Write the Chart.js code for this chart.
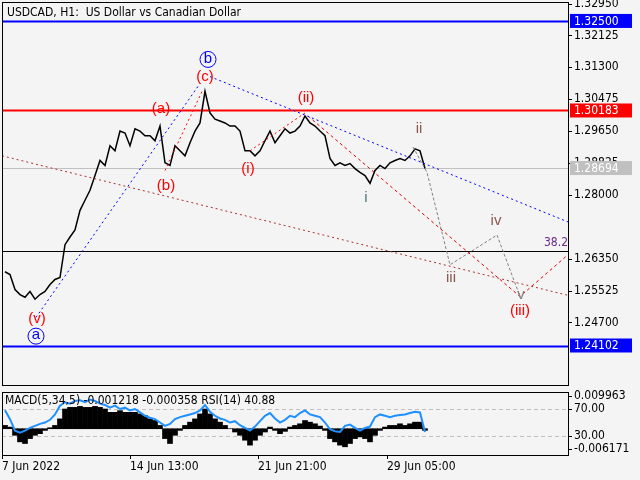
<!DOCTYPE html>
<html><head><meta charset="utf-8">
<script src="https://cdn.jsdelivr.net/npm/chart.js@4"></script>
<style>
body{margin:0;background:#f4f4f4;width:640px;height:480px;overflow:hidden;font-family:"Liberation Sans",sans-serif}
#a{position:absolute;left:0;top:0;width:640px;height:388px}
#b{position:absolute;left:0;top:388px;width:640px;height:92px}
</style></head><body>
<div id="a"><canvas id="c1"></canvas></div>
<div id="b"><canvas id="c2"></canvas></div>
<script>
const X0 = 3, STEP = 5;
const prices = [1.2601,1.2594,1.2555,1.2542,1.2535,1.2550,1.2530,1.2542,1.2550,1.2568,1.2581,1.2586,1.2671,1.2691,1.2709,1.2760,1.2786,1.2812,1.2850,1.2889,1.2876,1.2927,1.2914,1.2965,1.2960,1.2927,1.2971,1.2965,1.2953,1.2953,1.2940,1.2978,1.2883,1.2876,1.2927,1.2914,1.2901,1.2935,1.2965,1.2986,1.3068,1.3012,1.2996,1.2991,1.2986,1.2978,1.2978,1.2965,1.2914,1.2914,1.2901,1.2914,1.2940,1.2965,1.2935,1.2953,1.2971,1.2960,1.2965,1.2978,1.3004,1.2986,1.2978,1.2965,1.2953,1.2894,1.2876,1.2883,1.2876,1.2881,1.2868,1.2858,1.2850,1.2830,1.2863,1.2876,1.2868,1.2883,1.2889,1.2894,1.2889,1.2901,1.2919,1.2914,1.2868];
const macd = [1,0.5,-2,-4,-4.5,-3,-2,-1.5,-0.5,0.3,1,3,6,6.5,6.5,6.8,6.5,6.5,6.8,6.5,6,5,5,5.5,5,5,5,4.5,4,3,2.5,1,-3,-4.5,-2,-0.5,1,2,3,4.5,6,4.5,3,2,1,0,-1,-2,-3.5,-5,-3.5,-2,-1,0.5,-0.5,-1.5,-0.8,0.5,1,1.5,2.5,2,1.5,0.8,-0.5,-3,-4,-5,-5.5,-4.5,-3,-2.5,-3,-4,-2,-0.5,0.5,1,1,1.5,1,1.5,2,2,-0.5];
const rsi = [68,55,38,35,38,42,45,48,50,54,62,75,80,78,82,83,80,84,82,78,76,72,75,70,72,68,70,65,60,57,55,50,45,48,55,58,60,62,64,68,76,66,60,56,54,50,52,46,42,38,44,52,60,64,56,50,54,60,58,64,68,62,60,58,50,40,37,36,45,47,42,38,42,44,58,62,60,58,60,61,62,64,66,65,36];
const yTicks = [1.32950,1.32125,1.31300,1.30475,1.29650,1.28825,1.28000,1.26350,1.25525,1.24700];
const hLevels = [[1.32500,'#0000ff',2,'#0000ff','#fff'],[1.30183,'#ff0000',2,'#ff0000','#fff'],[1.28694,'#c0c0c0',1,'#c0c0c0','#fff'],[1.2655,'#000',1,null],[1.24102,'#0000ff',2,'#0000ff','#fff']];
const blueWave1 = [[34,1.2483],[198,1.3088]];
const blueWave2 = [[208,1.3106],[566,1.2730]];
const redWaveC = [[163,1.2863],[201,1.3073]];
const redWaveII = [[248,1.2914],[303,1.3012]];
const redWaveIII = [[306,1.3004],[518,1.2537],[566,1.2645]];
const brownTrend = [[0,1.2901],[566,1.2540]];
const grayPath = [[411,1.2924],[425,1.2858],[448,1.2619],[495,1.2696],[518,1.2537]];
const waveLabels = [['(c)',203,1.3106,'#ff0000',0],['b',206,1.3153,'#0000ff',1],['(a)',159,1.3022,'#ff0000',0],['(b)',164,1.2822,'#ff0000',0],['(i)',246,1.2868,'#ff0000',0],['(ii)',304,1.3050,'#ff0000',0],['i',364,1.2791,'#4a7a78',0],['ii',417,1.2970,'#8b5a4a',0],['iii',449,1.2586,'#8b5a4a',0],['iv',494,1.2732,'#8b5a4a',0],['v',519,1.2540,'#808080',0],['(iii)',518,1.2499,'#ff0000',0],['(v)',35,1.2478,'#ff0000',0],['a',34,1.2437,'#0000ff',1],['38.2',554,1.2676,'#6a2a8a',0]];
const dateLabels = [[0,'7 Jun 2022'],[128,'14 Jun 13:00'],[256,'21 Jun 21:00'],[385,'29 Jun 05:00']];

const pts = a => a.map(p=>({x:p[0],y:p[1]}));
const priceData = prices.map((v,i)=>({x:X0+i*STEP,y:v}));
const FONT = '12px "DejaVu Sans Condensed", "Liberation Sans"';
function ds(d,color,dash,w){return {data:pts(d),borderColor:color,borderWidth:w||1,borderDash:dash,pointRadius:0,tension:0,fill:false};}

const mainPlugin = {
  id:'mainp',
  beforeDatasetsDraw(ch){
    const {ctx,chartArea:a,scales:{x,y}}=ch;
    ctx.save();
    hLevels.forEach(h=>{const py=Math.round(y.getPixelForValue(h[0]))+0.5;ctx.strokeStyle=h[1];ctx.lineWidth=h[2];ctx.beginPath();ctx.moveTo(a.left,py);ctx.lineTo(a.right,py);ctx.stroke();});
    ctx.restore();
  },
  afterDraw(ch){
    const {ctx,chartArea:a,scales:{x,y}}=ch;
    ctx.save();
    ctx.strokeStyle='#000';ctx.lineWidth=1;ctx.strokeRect(a.left+0.5,a.top+0.5,a.right-a.left,a.bottom-a.top);
    ctx.font=FONT;ctx.fillStyle='#000';ctx.textBaseline='middle';ctx.textAlign='left';
    yTicks.forEach(v=>{const py=y.getPixelForValue(v);ctx.beginPath();ctx.moveTo(a.right,Math.round(py)+0.5);ctx.lineTo(a.right+4,Math.round(py)+0.5);ctx.stroke();ctx.fillText(v.toFixed(5),a.right+6,py);});
    ctx.fillText('USDCAD, H1:  US Dollar vs Canadian Dollar',7,13);
    hLevels.forEach(h=>{if(!h[3])return;const py=y.getPixelForValue(h[0]);ctx.fillStyle=h[3];ctx.fillRect(a.right+2,py-7,62,14);ctx.fillStyle=h[4];ctx.fillText(h[0].toFixed(5),a.right+6,py+0.5);});
    ctx.font='15px "Liberation Sans"';ctx.textAlign='center';
    waveLabels.forEach(l=>{const px=x.getPixelForValue(l[1]),py=y.getPixelForValue(l[2]);ctx.fillStyle=l[3];
      if(l[0]==='38.2'){ctx.font=FONT;}
      ctx.fillText(l[0],px,py);
      if(l[4]){ctx.strokeStyle=l[3];ctx.beginPath();ctx.arc(px,py+1,8,0,Math.PI*2);ctx.stroke();}
    });
    ctx.restore();
  }
};
new Chart(document.getElementById('c1'),{
  type:'line',
  data:{datasets:[
    ds(brownTrend,'#b03030',[2,3]),
    ds(blueWave1,'#0000ff',[2,3]),ds(blueWave2,'#0000ff',[2,3]),
    ds(redWaveC,'#ff0000',[2,3]),ds(redWaveII,'#ff0000',[2,3]),ds(redWaveIII,'#e00000',[3,3]),
    ds(grayPath,'#808080',[3,2]),
    {data:priceData,borderColor:'#000',borderWidth:1.5,pointRadius:0,tension:0}
  ]},
  options:{responsive:true,maintainAspectRatio:false,animation:false,events:[],
    layout:{padding:{left:2,top:2,bottom:3,right:72}},
    plugins:{legend:{display:false},tooltip:{enabled:false}},
    scales:{
      x:{type:'linear',min:0,max:566,display:false},
      y:{min:1.2308,max:1.3299,display:false}
    }},
  plugins:[mainPlugin]
});

const indPlugin={
  id:'indp',
  beforeDatasetsDraw(ch){
    const {ctx,chartArea:a,scales}=ch;const r=scales.yr;ctx.save();ctx.strokeStyle='#c0c0c0';ctx.setLineDash([4,3]);
    [70,30].forEach(v=>{const py=Math.round(r.getPixelForValue(v))+0.5;ctx.beginPath();ctx.moveTo(a.left,py);ctx.lineTo(a.right,py);ctx.stroke();});
    ctx.restore();
  },
  afterDraw(ch){
    const {ctx,chartArea:a,scales}=ch;const x=scales.x,m=scales.ym,r=scales.yr;ctx.save();
    ctx.strokeStyle='#000';ctx.lineWidth=1;ctx.strokeRect(a.left+0.5,a.top+0.5,a.right-a.left,a.bottom-a.top);
    ctx.font=FONT;ctx.fillStyle='#000';ctx.textBaseline='middle';ctx.textAlign='left';
    ctx.fillText('MACD(5,34,5) -0.001218 -0.000358 RSI(14) 40.88',5,a.top+9);
    const lab=[[m.getPixelForValue(9.963),'0.009963'],[r.getPixelForValue(70),'70.00'],[r.getPixelForValue(30),'30.00'],[m.getPixelForValue(-6.171),'-0.006171']];
    lab.forEach(l=>{ctx.beginPath();ctx.moveTo(a.right,Math.round(l[0])+0.5);ctx.lineTo(a.right+4,Math.round(l[0])+0.5);ctx.stroke();ctx.fillText(l[1],a.right+6,l[0]);});
    ctx.textBaseline='top';
    dateLabels.forEach(d=>{const px=x.getPixelForValue(d[0]);ctx.beginPath();ctx.moveTo(px+0.5,a.bottom);ctx.lineTo(px+0.5,a.bottom+4);ctx.stroke();ctx.fillText(d[1],px,a.bottom+6);});
    ctx.restore();
  }
};
new Chart(document.getElementById('c2'),{
  type:'bar',
  data:{datasets:[
    {type:'line',order:0,xAxisID:'x',yAxisID:'yr',data:rsi.map((v,i)=>({x:X0+i*STEP,y:v})),borderColor:'#1e90ff',borderWidth:2,pointRadius:0,tension:0},
    {type:'bar',order:1,xAxisID:'x',yAxisID:'ym',data:macd.map((v,i)=>({x:X0+i*STEP,y:v})),backgroundColor:'#000',barPercentage:1,categoryPercentage:1,borderWidth:0}
  ]},
  options:{responsive:true,maintainAspectRatio:false,animation:false,events:[],
    layout:{padding:{left:2,top:4,bottom:25,right:72}},
    plugins:{legend:{display:false},tooltip:{enabled:false}},
    scales:{
      x:{type:'linear',min:0,max:566,offset:false,display:false},
      ym:{type:'linear',axis:'y',min:-8.0,max:11.18,display:false},
      yr:{type:'linear',axis:'y',min:1.9,max:95.2,display:false}
    }},
  plugins:[indPlugin]
});
</script></body></html>
